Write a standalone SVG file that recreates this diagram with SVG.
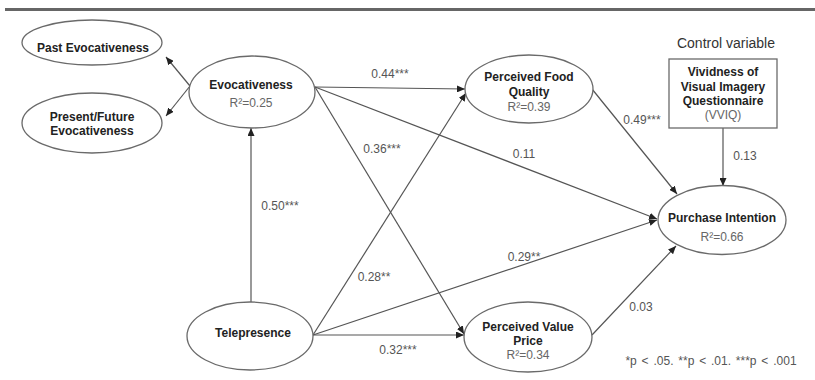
<svg xmlns="http://www.w3.org/2000/svg" width="815" height="380" viewBox="0 0 815 380">
<defs>
<style>
.node ellipse{fill:#fff;stroke:#6a6a6a;stroke-width:1.3}
.node rect{fill:#fff;stroke:#6a6a6a;stroke-width:1.3}
.t{font-family:"Liberation Sans",Arial,sans-serif;font-size:12px;font-weight:bold;fill:#222;text-anchor:middle}
.r{font-family:"Liberation Sans",Arial,sans-serif;font-size:12px;fill:#666;text-anchor:middle}
.lbl{font-family:"Liberation Sans",Arial,sans-serif;font-size:12px;fill:#555;text-anchor:middle}
#connectors line{stroke:#555;stroke-width:1.2;marker-end:url(#ah)}
</style>
<marker id="ah" markerUnits="userSpaceOnUse" markerWidth="8" markerHeight="7" refX="8" refY="3.5" orient="auto">
<path d="M0,0 L8,3.5 L0,7 z" fill="#222"/>
</marker>
</defs>
<rect width="815" height="380" fill="#fff"/>
<rect x="5" y="8" width="810" height="3" fill="#666"/>

<g id="connectors">
<line x1="190" y1="86" x2="166" y2="57"/>
<line x1="190" y1="86" x2="166" y2="116"/>
<line x1="251" y1="302" x2="251" y2="128"/>
<line x1="315" y1="87" x2="465" y2="89"/>
<line x1="315" y1="87" x2="657" y2="219"/>
<line x1="315" y1="87" x2="464" y2="334"/>
<line x1="313" y1="335" x2="466" y2="93"/>
<line x1="313" y1="335" x2="464" y2="335"/>
<line x1="313" y1="335" x2="657" y2="220"/>
<line x1="592" y1="89" x2="677" y2="194"/>
<line x1="592" y1="335" x2="676" y2="246"/>
<line x1="723" y1="128" x2="723" y2="186"/>
</g>

<g id="past" class="node">
<ellipse cx="92" cy="42.5" rx="70" ry="22.5"/>
<text class="t" x="93" y="52">Past Evocativeness</text>
</g>
<g id="present" class="node">
<ellipse cx="92" cy="123" rx="70" ry="30"/>
<text class="t" x="92" y="121">Present/Future</text>
<text class="t" x="92" y="135">Evocativeness</text>
</g>
<g id="evocativeness" class="node">
<ellipse cx="252" cy="92" rx="63" ry="36"/>
<text class="t" x="251" y="89">Evocativeness</text>
<text class="r" x="251" y="107">R²=0.25</text>
</g>
<g id="telepresence" class="node">
<ellipse cx="250" cy="336" rx="63" ry="34"/>
<text class="t" x="253" y="337">Telepresence</text>
</g>
<g id="pfq" class="node">
<ellipse cx="529" cy="89" rx="64" ry="34"/>
<text class="t" x="529" y="81">Perceived Food</text>
<text class="t" x="529" y="96">Quality</text>
<text class="r" x="529" y="111">R²=0.39</text>
</g>
<g id="pvp" class="node">
<ellipse cx="528" cy="337" rx="64" ry="35"/>
<text class="t" x="528" y="331">Perceived Value</text>
<text class="t" x="528" y="345">Price</text>
<text class="r" x="528" y="359">R²=0.34</text>
</g>
<g id="pi" class="node">
<ellipse cx="722" cy="220" rx="64" ry="34.5"/>
<text class="t" x="722" y="222">Purchase Intention</text>
<text class="r" x="722" y="241">R²=0.66</text>
</g>
<g id="vviq" class="node">
<text class="lbl" x="726" y="48" style="font-size:14px;fill:#333">Control variable</text>
<rect x="669" y="59" width="108" height="69"/>
<text class="t" x="723" y="76">Vividness of</text>
<text class="t" x="723" y="91">Visual Imagery</text>
<text class="t" x="723" y="105">Questionnaire</text>
<text class="r" x="723" y="119">(VVIQ)</text>
</g>

<g id="labels">
<text class="lbl" x="390" y="78">0.44***</text>
<text class="lbl" x="382" y="153">0.36***</text>
<text class="lbl" x="524" y="158">0.11</text>
<text class="lbl" x="280" y="210">0.50***</text>
<text class="lbl" x="374" y="281">0.28**</text>
<text class="lbl" x="524" y="261">0.29**</text>
<text class="lbl" x="398" y="354">0.32***</text>
<text class="lbl" x="642" y="124">0.49***</text>
<text class="lbl" x="745" y="160">0.13</text>
<text class="lbl" x="641" y="311">0.03</text>
<text class="lbl" x="711" y="365" style="font-size:12px;word-spacing:1.5px">*p &lt; .05. **p &lt; .01. ***p &lt; .001</text>
</g>
</svg>
